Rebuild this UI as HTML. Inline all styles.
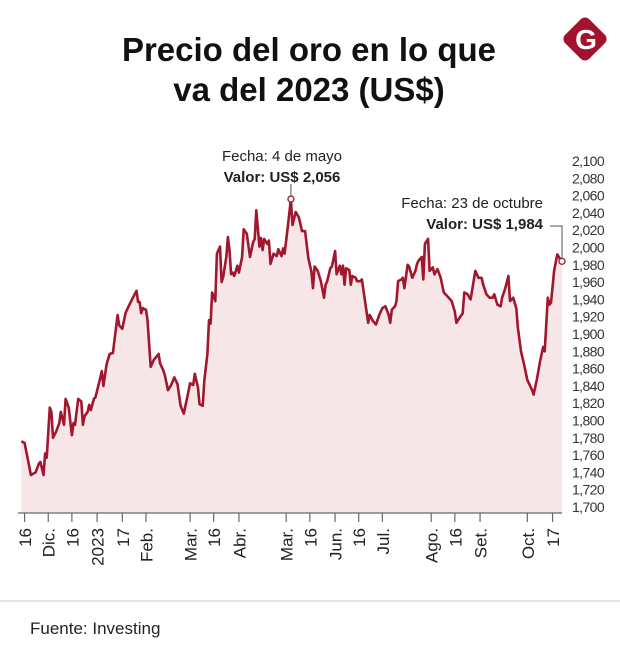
<!DOCTYPE html>
<html><head><meta charset="utf-8">
<style>
body{margin:0;background:#fff;width:620px;height:665px;overflow:hidden;font-family:"Liberation Sans",sans-serif}
</style></head><body>
<svg width="620" height="665" viewBox="0 0 620 665" xmlns="http://www.w3.org/2000/svg">
<text x="309" y="61" text-anchor="middle" font-size="33" font-weight="bold" fill="#111">Precio del oro en lo que</text>
<text x="309" y="101" text-anchor="middle" font-size="33" font-weight="bold" fill="#111">va del 2023 (US$)</text>
<g>
<rect x="568" y="22" width="34" height="34" rx="6" transform="rotate(45 585 39)" fill="#a3132d"/>
<text x="586" y="49" text-anchor="middle" font-size="28" font-weight="bold" fill="#fff">G</text>
</g>
<g id="plot"></g>
<line x1="0" y1="601" x2="620" y2="601" stroke="#ccc"/>
<text x="30" y="634" font-size="17" fill="#222">Fuente: Investing</text>
</svg>
<script>
const days=[-2,0,4,7,9,10,12,13,14,16,17,18,20,22,23,25,26,28,30,31,32,34,36,37,38,40,41,42,44,45,47,49,50,52,54,56,59,60,62,64,66,69,71,72,73,74,75,77,78,80,82,85,86,88,89,91,93,95,97,99,101,103,105,107,108,110,111,113,114,116,117,118,119,121,122,124,125,126,128,129,130,131,132,133,135,136,138,139,141,143,145,146,147,149,150,151,152,154,155,156,158,160,161,163,164,165,167,169,170,172,174,176,178,180,182,183,184,186,188,190,191,192,194,195,197,198,200,201,202,203,204,206,207,208,210,211,213,214,216,218,219,221,223,225,227,229,231,232,233,235,236,237,239,240,241,243,244,246,248,249,250,252,253,254,256,257,259,260,262,264,266,268,271,273,274,276,278,279,281,283,286,288,290,291,293,295,297,298,300,302,303,305,307,308,310,312,313,315,317,319,322,323,325,327,329,330,332,333,334,336,338,340,341];
const prices=[1776,1774,1737,1740,1750,1752,1737,1762,1757,1815,1810,1780,1787,1797,1810,1795,1825,1815,1783,1797,1795,1825,1822,1795,1805,1810,1818,1812,1825,1827,1842,1857,1840,1865,1877,1878,1922,1910,1906,1924,1932,1943,1950,1937,1937,1924,1930,1928,1916,1862,1870,1877,1866,1858,1852,1835,1841,1850,1842,1817,1808,1825,1843,1841,1854,1838,1819,1817,1846,1877,1916,1912,1948,1938,1993,2001,1960,1966,1989,2012,1997,1969,1971,1967,1979,1971,1989,2021,2016,1989,2006,2010,2043,2001,2011,1997,2010,2004,2008,1981,1993,1990,1998,1990,1999,1993,2024,2056,2026,2041,2035,2019,2019,1988,1972,1953,1978,1973,1961,1942,1957,1961,1976,1978,1996,1969,1979,1969,1979,1957,1976,1974,1957,1967,1965,1961,1961,1963,1938,1913,1922,1915,1911,1922,1930,1932,1922,1913,1928,1932,1938,1961,1963,1965,1953,1980,1978,1965,1973,1981,1985,1989,1963,2004,2010,1973,1977,1969,1975,1965,1948,1944,1938,1926,1913,1919,1924,1948,1946,1940,1973,1965,1965,1957,1946,1942,1942,1946,1934,1932,1942,1953,1967,1938,1942,1930,1907,1880,1864,1847,1835,1830,1847,1868,1885,1880,1942,1934,1936,1973,1992,1986,1984];
const tickDays=[0,15,30,46,62,77,105,120,136,166,181,197,212,227,258,273,289,319,335];
const tickLabels=["16","Dic.","16","2023","17","Feb.","Mar.","16","Abr.","Mar.","16","Jun.","16","Jul.","Ago.","16","Set.","Oct.","17"];
const yTicks=[1700,1720,1740,1760,1780,1800,1820,1840,1860,1880,1900,1920,1940,1960,1980,2000,2020,2040,2060,2080,2100];

const NS="http://www.w3.org/2000/svg";
const g=document.getElementById('plot');
const X=d=>24.6+d*1.576;
const Y=v=>507-(v-1700)*0.865;
const baseY=513;
function mk(t,a){const e=document.createElementNS(NS,t);for(const k in a)e.setAttribute(k,a[k]);g.appendChild(e);return e;}

let pts=days.map((d,i)=>X(d).toFixed(1)+','+Y(prices[i]).toFixed(1));
const area=mk('path',{d:'M'+X(days[0])+','+baseY+' L'+pts.join(' L')+' L'+X(days[days.length-1])+','+baseY+' Z',fill:'#f6e6e8'});


const line=mk('polyline',{points:pts.join(' '),fill:'none',stroke:'#a0172f','stroke-width':'2.6','stroke-linejoin':'round'});



const ax=mk('line',{x1:18,y1:baseY,x2:562,y2:baseY,stroke:'#666','stroke-width':1.2});


tickDays.forEach((d,i)=>{
  const x=X(d);
  const t=mk('line',{x1:x,y1:baseY,x2:x,y2:baseY+9,stroke:'#666','stroke-width':1.2});
  
  
  const l=mk('text',{x:0,y:0,transform:`translate(${x+6.5},${baseY+15}) rotate(-90)`,'text-anchor':'end','font-size':'17',fill:'#222'});
  l.textContent=tickLabels[i];
  
  
});
yTicks.forEach(v=>{
  const l=mk('text',{x:572,y:Y(v)+5,'font-size':'14',fill:'#333','letter-spacing':'-0.6'});
  l.textContent=v.toLocaleString('en-US');
  
  
});

const iMax=prices.indexOf(Math.max(...prices));
const mx=X(days[iMax]),my=Y(prices[iMax]);
const l1=mk('line',{x1:mx,y1:184,x2:mx,y2:my-3,stroke:'#555','stroke-width':1});


const c1=mk('circle',{cx:mx,cy:my,r:3,fill:'#fff',stroke:'#a0172f','stroke-width':1.3});


const a1=mk('text',{x:282,y:161,'text-anchor':'middle','font-size':'15',fill:'#222'});a1.textContent='Fecha: 4 de mayo';


const a2=mk('text',{x:282,y:182,'text-anchor':'middle','font-size':'15','font-weight':'bold',fill:'#222'});a2.textContent='Valor: US$ 2,056';


const li=prices.length-1;
const lx=X(days[li]),ly=Y(prices[li]);
const l2=mk('polyline',{points:`550,226 ${lx},226 ${lx},${ly-3}`,fill:'none',stroke:'#555','stroke-width':1});


const c2=mk('circle',{cx:lx,cy:ly,r:3,fill:'#fff',stroke:'#a0172f','stroke-width':1.3});


const a3=mk('text',{x:543,y:208,'text-anchor':'end','font-size':'15',fill:'#222'});a3.textContent='Fecha: 23 de octubre';


const a4=mk('text',{x:543,y:229,'text-anchor':'end','font-size':'15','font-weight':'bold',fill:'#222'});a4.textContent='Valor: US$ 1,984';


</script>
</body></html>
